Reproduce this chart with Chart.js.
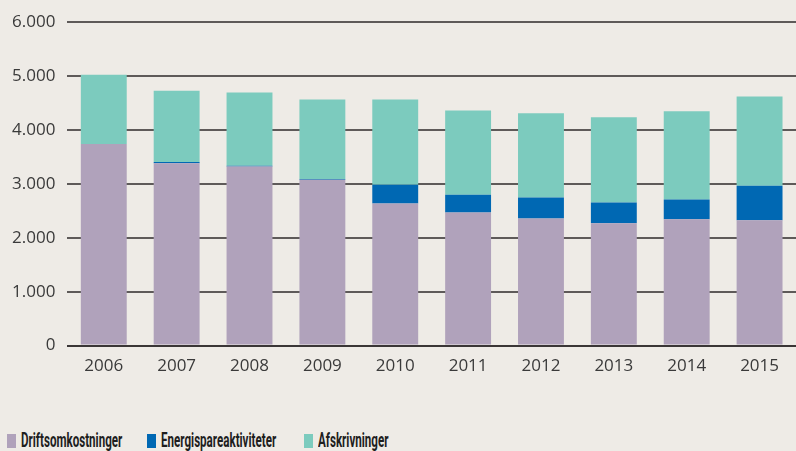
<!DOCTYPE html>
<html>
<head>
<meta charset="utf-8">
<script src="https://cdn.jsdelivr.net/npm/chart.js@4.4.1/dist/chart.umd.min.js"></script>
<style>
  html, body { margin: 0; padding: 0; background: #eeebe6; }
  .wrap { position: relative; width: 796px; height: 451px; overflow: hidden; }
  .chartBox { position: absolute; left: 0; top: 0; width: 796px; height: 386px; }
  #chartLegend { position: absolute; left: 0; top: 431px; width: 796px; height: 20px; font-family: "Roboto", sans-serif; font-weight: 700; font-size: 20px; color: #1e1e1e; }
  .legend-item { position: absolute; top: 0; height: 20px; }
  .legend-color { position: absolute; left: 0; top: 3px; width: 9px; height: 14px; }
  .legend-text { position: absolute; top: -2px; line-height: 22px; white-space: nowrap; transform: scaleX(0.58); transform-origin: 0 50%; }
</style>
</head>
<body>
<div class="wrap">
  <div class="chartBox"><canvas id="costChart"></canvas></div>
  <div id="chartLegend"></div>
</div>
<script>
const years = ["2006", "2007", "2008", "2009", "2010", "2011", "2012", "2013", "2014", "2015"];
const drift = [3740, 3385, 3322, 3077, 2636, 2470, 2360, 2268, 2342, 2324];
const energi = [0, 20, 15, 15, 349, 331, 386, 386, 368, 643];
const afskr = [1285, 1325, 1358, 1474, 1581, 1563, 1563, 1581, 1636, 1654];
const yTicks = [0, 1000, 2000, 3000, 4000, 5000, 6000];

const data = {
  labels: years,
  datasets: [
    { label: "Driftsomkostninger", data: drift, backgroundColor: "#b0a2bb" },
    { label: "Energispareaktiviteter", data: energi, backgroundColor: "#0068b3" },
    { label: "Afskrivninger", data: afskr, backgroundColor: "#7ccbbe" },
  ],
};

const legendX = [7, 147, 304]; // left edge of each legend marker

const config = {
  type: "bar",
  data: data,
  options: {
    responsive: true,
    maintainAspectRatio: false,
    animation: false,
    // plot runs slightly past the right edge in the original
    layout: { padding: { top: 4, right: -5, left: 0, bottom: 0 } },
    datasets: { bar: { barPercentage: 0.63, categoryPercentage: 1 } },
    plugins: {
      legend: { display: false },
      tooltip: { enabled: false },
    },
    scales: {
      x: {
        stacked: true,
        grid: { display: false, drawTicks: false },
        border: { display: false },
        ticks: {
          color: "#3a3a3a",
          font: { family: "Open Sans", size: 17 },
          padding: 10,
          maxRotation: 0,
        },
      },
      y: {
        stacked: true,
        min: 0,
        max: 6000,
        afterBuildTicks: (axis) => {
          axis.ticks = yTicks.map((v) => ({ value: v }));
        },
        grid: {
          color: (ctx) => (ctx.tick && ctx.tick.value === 0 ? "#3a3636" : "#5e5a59"),
          lineWidth: 2,
          drawTicks: false,
        },
        border: { display: false },
        ticks: {
          color: "#3a3a3a",
          font: { family: "Open Sans", size: 17 },
          padding: 12,
          callback: (v) => v.toLocaleString("de-DE"),
        },
      },
    },
  },
  plugins: [
    {
      id: "custom-legend",
      afterUpdate: (chart) => {
        const legendContainer = document.getElementById("chartLegend");
        legendContainer.innerHTML = "";
        chart.data.datasets.forEach((ds, i) => {
          const legendItem = document.createElement("div");
          legendItem.classList.add("legend-item");
          legendItem.style.left = legendX[i] + "px";

          const colorBox = document.createElement("span");
          colorBox.classList.add("legend-color");
          colorBox.style.backgroundColor = ds.backgroundColor;

          const labelText = document.createElement("span");
          labelText.classList.add("legend-text");
          labelText.style.left = "14px";
          labelText.textContent = ds.label;

          legendItem.appendChild(colorBox);
          legendItem.appendChild(labelText);
          legendContainer.appendChild(legendItem);
        });
      },
    },
  ],
};

new Chart(document.getElementById("costChart").getContext("2d"), config);
</script>
</body>
</html>
